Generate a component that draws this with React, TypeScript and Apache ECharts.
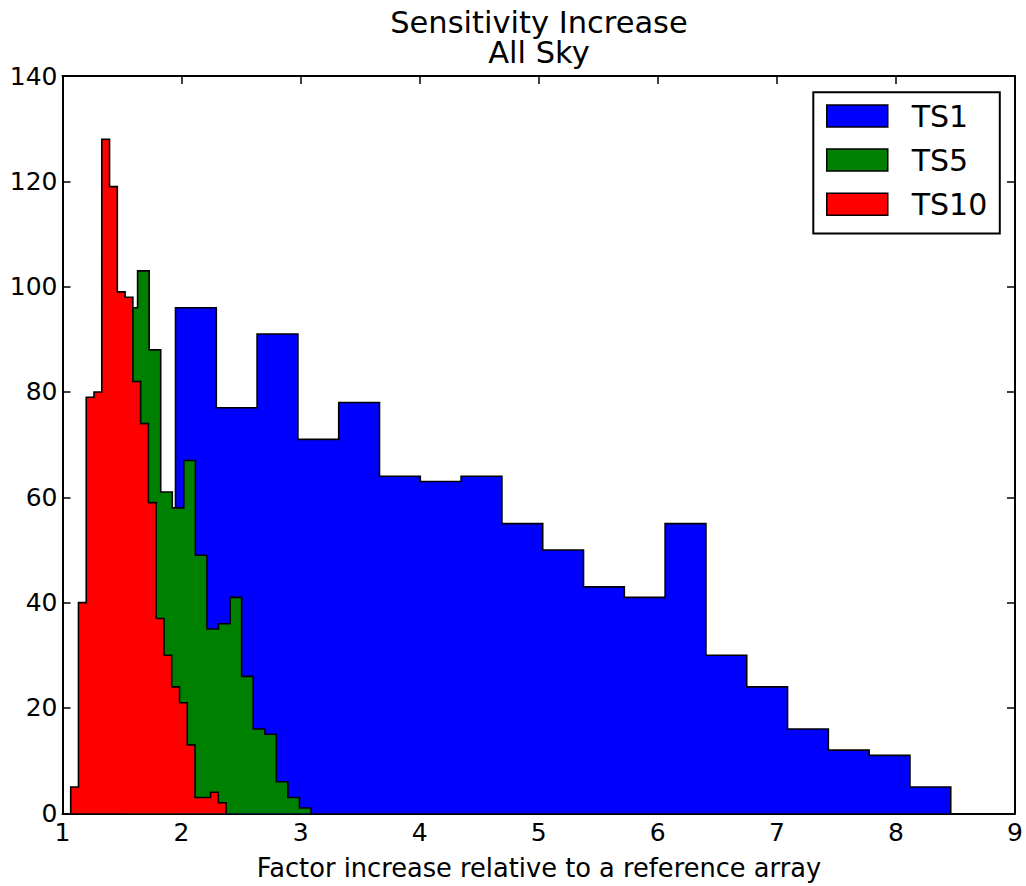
import React, { useEffect, useRef } from "react";
import * as echarts from "echarts";

// ---- data ----
const seriesNames = ["TS1", "TS5", "TS10"];
const seriesColors = ["#0000ff", "#008000", "#ff0000"];

// histogram bins: first edge, bin width, counts
const ts1Start = 1.949;
const ts1Width = 0.3427;
const ts1Counts = [96, 77, 91, 71, 78, 64, 63, 64, 55, 50, 43, 41, 55, 30, 24, 16, 12, 11, 5];

const ts5Start = 1.5336;
const ts5Width = 0.0971;
const ts5Counts = [96, 103, 88, 61, 58, 67, 49, 35, 36, 41, 26, 16, 15, 6, 3, 1];

const ts10Start = 1.0689;
const ts10Width = 0.06526;
const ts10Counts = [5, 40, 79, 80, 128, 119, 99, 98, 82, 74, 59, 37, 30, 24, 21, 13, 3, 3, 4, 2];

const xTicks = [1, 2, 3, 4, 5, 6, 7, 8, 9];
const yTicks = [0, 20, 40, 60, 80, 100, 120, 140];

const titleText = "Sensitivity Increase\nAll Sky";
const xLabel = "Factor increase relative to a reference array";

const FONT = "'DejaVu Sans', 'Liberation Sans', sans-serif";

function stepOutline(start: number, width: number, counts: number[]): number[][] {
  const pts: number[][] = [[start, 0]];
  counts.forEach((c, i) => {
    const a = start + i * width;
    const b = start + (i + 1) * width;
    pts.push([a, c], [b, c]);
  });
  pts.push([start + counts.length * width, 0]);
  return pts;
}

export default function App() {
  const ref = useRef<HTMLDivElement>(null);

  useEffect(() => {
    if (!ref.current) return;
    const chart = echarts.init(ref.current, undefined, { renderer: "svg" });

    const hists = [
      stepOutline(ts1Start, ts1Width, ts1Counts),
      stepOutline(ts5Start, ts5Width, ts5Counts),
      stepOutline(ts10Start, ts10Width, ts10Counts),
    ];

    const axisLine = { show: true, onZero: false, lineStyle: { color: "#000", width: 2 } };
    const axisTick = { show: true, inside: true, length: 8, lineStyle: { color: "#000", width: 1.5 } };

    const option: any = {
      animation: false,
      backgroundColor: "#fff",
      grid: { left: 62.5, right: 11, top: 76, bottom: 72.7, containLabel: false },
      xAxis: [
        {
          type: "value",
          min: xTicks[0],
          max: xTicks[xTicks.length - 1],
          interval: 1,
          position: "bottom",
          axisLine,
          axisTick,
          splitLine: { show: false },
          axisLabel: {
            show: true,
            margin: 7,
            color: "#000",
            fontSize: 25,
            fontFamily: FONT,
            formatter: (v: number) => String(v),
          },
        },
        {
          type: "value",
          min: xTicks[0],
          max: xTicks[xTicks.length - 1],
          interval: 1,
          position: "top",
          axisLine,
          axisTick,
          splitLine: { show: false },
          axisLabel: { show: false },
        },
      ],
      yAxis: [
        {
          type: "value",
          min: yTicks[0],
          max: yTicks[yTicks.length - 1],
          interval: 20,
          position: "left",
          axisLine,
          axisTick,
          splitLine: { show: false },
          axisLabel: {
            show: true,
            margin: 5,
            color: "#000",
            fontSize: 25,
            fontFamily: FONT,
          },
        },
        {
          type: "value",
          min: yTicks[0],
          max: yTicks[yTicks.length - 1],
          interval: 20,
          position: "right",
          axisLine,
          axisTick,
          splitLine: { show: false },
          axisLabel: { show: false },
        },
      ],
      legend: {
        orient: "vertical",
        left: 813.3,
        top: 92.3,
        padding: [8.7, 12.5, 14.2, 12.7],
        itemWidth: 61,
        itemHeight: 22,
        itemGap: 14.1,
        borderColor: "#000",
        borderWidth: 2,
        backgroundColor: "#fff",
        icon: "rect",
        selectedMode: false,
        itemStyle: { borderColor: "#000", borderWidth: 1.5 },
        textStyle: {
          fontSize: 30,
          fontFamily: FONT,
          color: "#000",
          padding: [0, 0, 0, 19],
        },
        data: seriesNames.map((n, i) => ({
          name: n,
          itemStyle: { color: seriesColors[i], borderColor: "#000", borderWidth: 1.5 },
        })),
      },
      series: hists.map((pts, i) => ({
        type: "line",
        name: seriesNames[i],
        data: pts,
        xAxisIndex: 0,
        yAxisIndex: 0,
        symbol: "none",
        showSymbol: false,
        silent: true,
        clip: true,
        z: 2 + i,
        itemStyle: { color: seriesColors[i] },
        lineStyle: { color: "#000", width: 1.6, join: "miter" },
        areaStyle: { color: seriesColors[i], opacity: 1 },
      })),
      graphic: [
        {
          type: "text",
          x: 539,
          y: 7,
          style: {
            text: titleText,
            font: `30.5px ${FONT}`,
            lineHeight: 30.6,
            fill: "#000",
            textAlign: "center",
            textVerticalAlign: "top",
          },
        },
        {
          type: "text",
          x: 539,
          y: 867.5,
          style: {
            text: xLabel,
            font: `25.7px ${FONT}`,
            fill: "#000",
            textAlign: "center",
            textVerticalAlign: "middle",
          },
        },
      ],
    };

    chart.setOption(option);
    return () => {
      chart.dispose();
    };
  }, []);

  return (
    <div
      ref={ref}
      style={{ position: "absolute", left: 0, top: 0, width: 1026, height: 886, background: "#fff" }}
    />
  );
}
